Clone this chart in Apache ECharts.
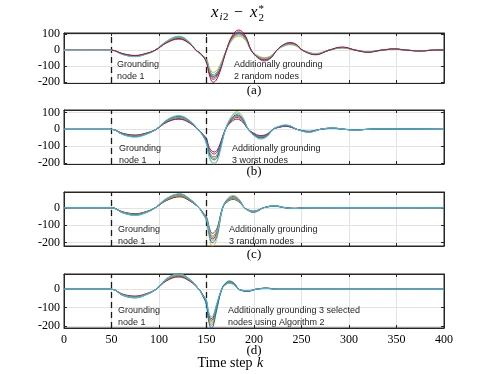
<!DOCTYPE html>
<html>
<head>
<meta charset="utf-8">
<script src="https://cdn.jsdelivr.net/npm/echarts@6/dist/echarts.min.js"></script>
<style>
  html, body { margin: 0; padding: 0; background: #fff; }
  #chart { width: 491px; height: 374px; }
</style>
</head>
<body>
<div id="chart"></div>
<script>
// colours in MATLAB default order: blue, orange, yellow, purple, green, cyan, red
var lineColors = ['#0072BD', '#D95319', '#EDB120', '#7E2F8E', '#77AC30', '#4DBEEE', '#A2142F']

var groundSteps = [50, 150]

// (a) grounding node 1, then 2 random nodes
var stepsA = [0, 50, 62, 75, 86, 96, 108, 121, 131, 139, 145,
  150, 153, 157, 160, 164, 171, 177, 184, 191, 197, 204, 211, 218, 224, 231, 238, 245, 251, 265, 279, 293, 307, 320, 334, 348, 361, 375, 388, 400]
var linesA = [
  [0, 0, -27, -39, -25, 0, 55, 85, 55, 0, -34, -65, -128, -166, -157, -114, 0, 74, 105, 74, 0, -40, -55, -40, 0, 29, 40, 29, 0, -24, 0, 16, 0, -10, 0, 7, 0, -4, 0, 2],
  [0, 0, -24, -36, -23, 0, 50, 78, 50, 0, -31, -71, -142, -184, -173, -126, 0, 82, 116, 82, 0, -44, -61, -44, 0, 32, 44, 32, 0, -26, 0, 18, 0, -12, 0, 7, 0, -4, 0, 2],
  [0, 0, -24, -35, -23, 0, 49, 76, 49, 0, -30, -54, -108, -140, -132, -96, 0, 62, 88, 62, 0, -34, -46, -34, 0, 24, 34, 24, 0, -20, 0, 14, 0, -9, 0, 6, 0, -3, 0, 2],
  [0, 0, -23, -34, -22, 0, 48, 74, 48, 0, -30, -68, -135, -175, -165, -120, 0, 78, 110, 78, 0, -42, -58, -42, 0, 30, 42, 30, 0, -25, 0, 17, 0, -11, 0, 7, 0, -4, 0, 2],
  [0, 0, -25, -37, -24, 0, 52, 80, 52, 0, -32, -60, -119, -154, -145, -106, 0, 69, 97, 69, 0, -37, -51, -37, 0, 26, 37, 26, 0, -22, 0, 15, 0, -10, 0, 6, 0, -4, 0, 2],
  [0, 0, -28, -41, -26, 0, 57, 88, 57, 0, -35, -63, -124, -161, -152, -110, 0, 72, 101, 72, 0, -39, -53, -39, 0, 28, 39, 28, 0, -23, 0, 16, 0, -10, 0, 6, 0, -4, 0, 2],
  [0, 0, -22, -33, -21, 0, 46, 70, 46, 0, -28, -78, -155, -201, -190, -138, 0, 90, 127, 90, 0, -48, -67, -48, 0, 35, 48, 35, 0, -29, 0, 20, 0, -13, 0, 8, 0, -5, 0, 2]
]
var leadStepsA = [0, 50]
var leadValuesA = [0, 0]

// (b) 3 worst nodes
var stepsB = [0, 50, 62, 75, 86, 97, 108, 121, 132, 141, 146,
  150, 153, 158, 161, 164, 170, 176, 182, 188, 194, 201, 207, 214, 220, 227, 233, 239, 245, 258, 270, 283, 295, 307, 320, 333, 400]
var linesB = [
  [0, 0, -31, -44, -30, 0, 53, 77, 51, 0, -36, -76, -147, -181, -168, -121, 0, 62, 86, 62, 0, -37, -50, -37, 0, 17, 23, 17, 0, -16, 0, 7, 0, -4, 0, 2, 0],
  [0, 0, -28, -40, -27, 0, 48, 70, 46, 0, -33, -68, -133, -163, -152, -109, 0, 56, 78, 56, 0, -33, -46, -33, 0, 15, 21, 15, 0, -14, 0, 7, 0, -4, 0, 2, 0],
  [0, 0, -29, -42, -28, 0, 50, 74, 48, 0, -35, -83, -161, -198, -184, -132, 0, 75, 104, 75, 0, -40, -55, -40, 0, 18, 25, 18, 0, -17, 0, 8, 0, -5, 0, 2, 0],
  [0, 0, -25, -36, -24, 0, 43, 63, 41, 0, -30, -61, -119, -146, -136, -98, 0, 50, 70, 50, 0, -30, -41, -30, 0, 14, 19, 14, 0, -13, 0, 6, 0, -3, 0, 2, 0],
  [0, 0, -28, -40, -27, 0, 48, 70, 46, 0, -33, -72, -140, -172, -160, -115, 0, 59, 82, 59, 0, -35, -48, -35, 0, 16, 22, 16, 0, -15, 0, 7, 0, -4, 0, 2, 0],
  [0, 0, -32, -46, -31, 0, 55, 81, 53, 0, -38, -86, -168, -206, -192, -138, 0, 69, 96, 69, 0, -42, -58, -42, 0, 19, 26, 19, 0, -18, 0, 8, 0, -5, 0, 2, 0],
  [0, 0, -24, -34, -23, 0, 41, 60, 39, 0, -28, -56, -109, -134, -125, -90, 0, 43, 60, 43, 0, -27, -37, -27, 0, 12, 17, 12, 0, -12, 0, 5, 0, -3, 0, 2, 0]
]

// (c) 3 random nodes
var stepsC = [0, 50, 62, 75, 86, 96, 108, 122, 132, 142, 146,
  150, 153, 156, 159, 162, 167, 172, 178, 184, 190, 195, 199, 204, 210, 222, 233, 243, 255, 270, 400]
var linesC = [
  [0, 0, -30, -43, -29, 0, 53, 79, 52, 0, -33, -72, -157, -202, -188, -140, 0, 47, 65, 47, 0, -19, -26, -19, 0, 11, 0, -4, 0, 0, 0],
  [0, 0, -27, -39, -26, 0, 48, 72, 47, 0, -30, -61, -133, -171, -160, -119, 0, 40, 55, 40, 0, -16, -22, -16, 0, 10, 0, -4, 0, 0, 0],
  [0, 0, -28, -41, -27, 0, 50, 76, 49, 0, -32, -79, -172, -221, -207, -154, 0, 52, 71, 52, 0, -21, -28, -21, 0, 12, 0, -5, 0, 0, 0],
  [0, 0, -25, -36, -24, 0, 44, 66, 43, 0, -28, -52, -115, -148, -138, -103, 0, 34, 48, 34, 0, -14, -19, -14, 0, 8, 0, -3, 0, 0, 0],
  [0, 0, -26, -37, -25, 0, 46, 68, 45, 0, -29, -58, -126, -162, -151, -113, 0, 38, 52, 38, 0, -15, -21, -15, 0, 9, 0, -4, 0, 0, 0],
  [0, 0, -30, -44, -29, 0, 54, 81, 53, 0, -34, -67, -147, -189, -176, -131, 0, 44, 61, 44, 0, -18, -24, -18, 0, 11, 0, -4, 0, 0, 0],
  [0, 0, -24, -34, -23, 0, 42, 63, 41, 0, -26, -64, -140, -180, -168, -125, 0, 42, 58, 42, 0, -17, -23, -17, 0, 10, 0, -4, 0, 0, 0]
]

// (d) 3 nodes selected by Algorithm 2
var stepsD = [0, 50, 62, 75, 86, 97, 108, 121, 132, 142, 146,
  150, 152, 155, 157, 160, 166, 170, 174, 179, 184, 188, 192, 197, 202, 213, 225, 240, 400]
var linesD = [
  [0, 0, -34, -47, -31, 0, 58, 84, 56, 0, -37, -85, -165, -210, -201, -130, 0, 33, 45, 33, 0, -8, -12, -8, 0, 6, 0, 0, 0],
  [0, 0, -30, -42, -28, 0, 52, 75, 50, 0, -33, -79, -154, -196, -187, -121, 0, 31, 42, 31, 0, -8, -11, -8, 0, 6, 0, 0, 0],
  [0, 0, -32, -44, -29, 0, 55, 79, 53, 0, -35, -76, -147, -187, -179, -116, 0, 29, 40, 29, 0, -7, -11, -7, 0, 5, 0, 0, 0],
  [0, 0, -29, -40, -27, 0, 49, 71, 48, 0, -31, -68, -133, -169, -162, -105, 0, 27, 36, 27, 0, -7, -10, -7, 0, 5, 0, 0, 0],
  [0, 0, -30, -42, -28, 0, 52, 75, 50, 0, -33, -72, -140, -178, -170, -110, 0, 28, 38, 28, 0, -7, -10, -7, 0, 5, 0, 0, 0],
  [0, 0, -33, -46, -31, 0, 57, 83, 55, 0, -36, -60, -118, -150, -143, -92, 0, 24, 32, 24, 0, -6, -8, -6, 0, 4, 0, 0, 0],
  [0, 0, -27, -37, -25, 0, 46, 67, 45, 0, -29, -65, -126, -160, -153, -99, 0, 25, 34, 25, 0, -6, -9, -6, 0, 5, 0, 0, 0]
]

var panelTags = ['(a)', '(b)', '(c)', '(d)']
var notesLeft = ['Grounding\nnode 1', 'Grounding\nnode 1', 'Grounding\nnode 1', 'Grounding\nnode 1']
var notesRight = [
  'Additionally grounding\n2 random nodes',
  'Additionally grounding\n3 worst nodes',
  'Additionally grounding\n3 random nodes',
  'Additionally grounding 3 selected\nnodes using Algorithm 2'
]

var panels = [
  {steps: stepsA, lines: linesA, yMin: -206, yMax: 108, top: 33, height: 50, order: [0, 1, 2, 3, 4, 5, 6], clip: false,
   tagY: 91, noteY: 71, leftX: 117, rightX: 234},
  {steps: stepsB, lines: linesB, yMin: -205, yMax: 114, top: 110, height: 54, order: [6, 1, 2, 3, 4, 0, 5], clip: true,
   tagY: 172, noteY: 155, leftX: 119, rightX: 232},
  {steps: stepsC, lines: linesC, yMin: -221, yMax: 91, top: 192, height: 54, order: [6, 1, 2, 3, 4, 0, 5], clip: true,
   tagY: 255, noteY: 235.5, leftX: 118, rightX: 229},
  {steps: stepsD, lines: linesD, yMin: -211, yMax: 83, top: 274, height: 54, order: [6, 1, 2, 3, 4, 0, 5], clip: true,
   tagY: 351, noteY: 317, leftX: 118, rightX: 228}
]

var axisColor = '#262626'
var gridColor = '#e3e3e3'
var serif = 'Liberation Serif'
var sans = 'Liberation Sans'

var grids = [], xAxes = [], yAxes = [], series = [], graphics = []

panels.forEach(function (p, i) {
  var last = i === panels.length - 1
  grids.push({left: 64, top: p.top, width: 380, height: p.height,
    show: true, borderColor: axisColor, borderWidth: 1, backgroundColor: '#fff'})

  // bottom and top x axes
  xAxes.push({
    gridIndex: i, type: 'value', min: 0, max: 400, interval: 50, position: 'bottom',
    axisLine: {show: true, onZero: false, lineStyle: {color: axisColor}},
    axisTick: {show: true, inside: true, length: 3, lineStyle: {color: axisColor}},
    axisLabel: {show: last, margin: 6, color: '#000', fontFamily: serif, fontSize: 12},
    splitLine: {show: true, lineStyle: {color: gridColor, width: 1}}
  })
  xAxes.push({
    gridIndex: i, type: 'value', min: 0, max: 400, interval: 50, position: 'top',
    axisLine: {show: true, onZero: false, lineStyle: {color: axisColor}},
    axisTick: {show: true, inside: true, length: 3, lineStyle: {color: axisColor}},
    axisLabel: {show: false}, splitLine: {show: false}
  })
  // left and right y axes
  var yBase = {
    gridIndex: i, type: 'value', min: p.yMin, max: p.yMax, minInterval: 100, maxInterval: 100
  }
  yAxes.push(Object.assign({}, yBase, {
    position: 'left',
    axisLine: {show: true, onZero: false, lineStyle: {color: axisColor}},
    axisTick: {show: true, inside: true, length: 3, lineStyle: {color: axisColor}},
    axisLabel: {
      show: true, margin: 4, color: '#000', fontFamily: serif, fontSize: 12,
      formatter: function (v) { return v % 100 === 0 ? String(v) : '' }
    },
    splitLine: {show: true, lineStyle: {color: gridColor, width: 1}}
  }))
  yAxes.push(Object.assign({}, yBase, {
    position: 'right',
    axisLine: {show: true, onZero: false, lineStyle: {color: axisColor}},
    axisTick: {show: true, inside: true, length: 3, lineStyle: {color: axisColor}},
    axisLabel: {show: false}, splitLine: {show: false}
  }))

  p.order.forEach(function (k, n) {
    var vals = p.lines[k]
    var s = {
      type: 'line', xAxisIndex: i * 2, yAxisIndex: i * 2,
      data: p.steps.map(function (x, j) { return [x, vals[j]] }),
      showSymbol: false, smooth: 0.4, clip: p.clip,
      lineStyle: {color: lineColors[k], width: 1},
      itemStyle: {color: lineColors[k]},
      z: 2 + n, silent: true
    }
    if (n === p.order.length - 1) {
      s.markLine = {
        silent: true, symbol: 'none', label: {show: false},
        lineStyle: {color: '#1a1a1a', width: 1.3, type: [6, 4]},
        data: groundSteps.map(function (g) { return {xAxis: g} })
      }
    }
    series.push(s)
  })

  if (i === 0) {
    series.push({
      type: 'line', xAxisIndex: 0, yAxisIndex: 0,
      data: leadStepsA.map(function (x, j) { return [x, leadValuesA[j]] }),
      showSymbol: false, lineStyle: {color: '#7fd0e0', width: 1}, z: 20, silent: true
    })
  }

  graphics.push({type: 'text', x: p.leftX, y: p.noteY, z: 100,
    style: {text: notesLeft[i], font: '9px "' + sans + '"', fill: '#262626', verticalAlign: 'middle', lineHeight: 12}})
  graphics.push({type: 'text', x: p.rightX, y: p.noteY, z: 100,
    style: {text: notesRight[i], font: '9px "' + sans + '"', fill: '#262626', verticalAlign: 'middle', lineHeight: 12}})
  graphics.push({type: 'text', x: 254, y: p.tagY, z: 100,
    style: {text: panelTags[i], font: '13px "' + serif + '"', fill: '#000', align: 'center', verticalAlign: 'middle'}})
})

// axis title
graphics.push({type: 'text', x: 256, y: 363, z: 100,
  style: {text: 'Time step ', font: '14px "' + serif + '"', fill: '#000', align: 'right', verticalAlign: 'middle'}})
graphics.push({type: 'text', x: 257, y: 363, z: 100,
  style: {text: 'k', font: 'italic 14px "' + serif + '"', fill: '#000', align: 'left', verticalAlign: 'middle'}})

// title x_{i2} - x_2^*
var tFont = '"' + serif + '"'
graphics.push({type: 'text', x: 211, y: 13, style: {text: 'x', font: 'italic 17px ' + tFont, fill: '#000', verticalAlign: 'middle'}})
graphics.push({type: 'text', x: 219.5, y: 17.5, style: {text: 'i', font: 'italic 11px ' + tFont, fill: '#000', verticalAlign: 'middle'}})
graphics.push({type: 'text', x: 223, y: 17.5, style: {text: '2', font: '11px ' + tFont, fill: '#000', verticalAlign: 'middle'}})
graphics.push({type: 'text', x: 234, y: 13, style: {text: '\u2212', font: '16px ' + tFont, fill: '#000', verticalAlign: 'middle'}})
graphics.push({type: 'text', x: 250, y: 13, style: {text: 'x', font: 'italic 17px ' + tFont, fill: '#000', verticalAlign: 'middle'}})
graphics.push({type: 'text', x: 258.5, y: 18, style: {text: '2', font: '11px ' + tFont, fill: '#000', verticalAlign: 'middle'}})
graphics.push({type: 'text', x: 258.5, y: 9, style: {text: '*', font: '11px ' + tFont, fill: '#000', verticalAlign: 'middle'}})

var myChart = echarts.init(document.getElementById('chart'), null, {renderer: 'canvas'})
myChart.setOption({
  animation: false,
  backgroundColor: '#fff',
  grid: grids,
  xAxis: xAxes,
  yAxis: yAxes,
  series: series,
  graphic: graphics
})
</script>
</body>
</html>
